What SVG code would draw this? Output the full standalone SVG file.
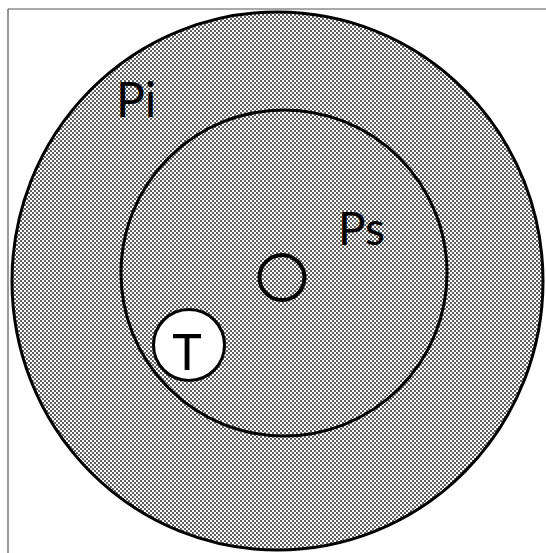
<svg xmlns="http://www.w3.org/2000/svg" width="546" height="553" viewBox="0 0 546 553">
  <defs>
    <pattern id="dither" x="0" y="0" width="4" height="4" patternUnits="userSpaceOnUse">
      <rect x="0" y="0" width="4" height="4" fill="#ffffff"/>
      <rect x="0" y="0" width="2" height="2" fill="#606060"/>
      <rect x="2" y="2" width="2" height="2" fill="#606060"/>
    </pattern>
  </defs>
  <style>
    .ring { fill: url(#dither); stroke: #000; stroke-width: 3; }
    .lbl { font-family: "Lato", "Open Sans", "Liberation Sans", sans-serif; fill: #000; }
    .frame { stroke: #555; stroke-width: 1.2; fill: none; }
  </style>
  <rect x="0" y="0" width="546" height="553" fill="#ffffff"/>
  <g id="frame">
    <line class="frame" x1="8" y1="9" x2="546" y2="9"/>
    <line class="frame" x1="8" y1="9" x2="8" y2="553"/>
  </g>
  <g id="Pi">
    <ellipse class="ring" cx="277.5" cy="281" rx="265.5" ry="269"/>
    <text class="lbl" x="116" y="117" font-size="48">Pi</text>
  </g>
  <g id="Ps">
    <circle class="ring" cx="284" cy="273" r="163"/>
    <text class="lbl" x="338" y="245" font-size="46">Ps</text>
  </g>
  <g id="O">
    <circle cx="282" cy="277.5" r="22.5" fill="none" stroke="#000" stroke-width="4"/>
  </g>
  <g id="T">
    <circle cx="189" cy="345" r="35.5" fill="#ffffff" stroke="#000" stroke-width="3"/>
    <text class="lbl" x="187" y="370" font-size="50" text-anchor="middle">T</text>
  </g>
</svg>
